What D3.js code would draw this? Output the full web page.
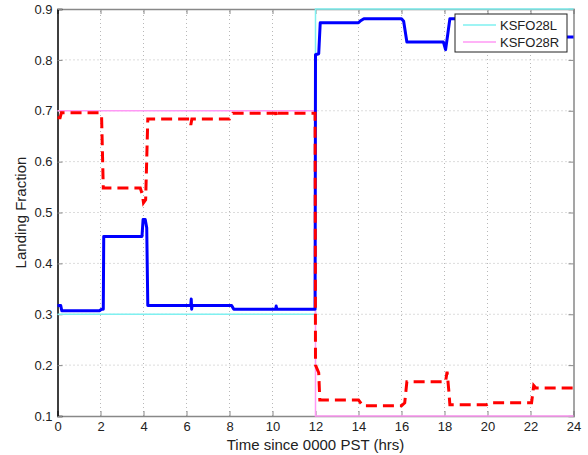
<!DOCTYPE html>
<html>
<head>
<meta charset="utf-8">
<script src="https://cdn.jsdelivr.net/npm/d3@7"></script>
<style>
  body { margin: 0; background: #fff; }
  text { font-family: "Liberation Sans", Arial, sans-serif; }
</style>
</head>
<body>
<div id="chart"></div>
<script>
// runway schedules (reference)
const refTimes = [0, 12, 12, 24];
const ksfo28L = [0.3, 0.3, 0.9, 0.9];
const ksfo28R = [0.7, 0.7, 0.1, 0.1];

// actual landing fractions, 28L (blue, solid)
const blueTimes = [0, 0.15, 0.2, 1.95, 2.05, 2.13, 2.15, 3.93, 3.98, 4.08, 4.15, 4.2,
  6.2, 6.22, 6.24, 6.26, 8.1, 8.2, 10.15, 10.17, 10.2, 11.98, 12.0, 12.15, 12.22,
  14.0, 14.1, 14.25, 16.0, 16.1, 16.25, 17.95, 18.05, 18.15, 18.25, 22.0, 22.05, 24];
const blueVals = [0.317, 0.317, 0.307, 0.307, 0.31, 0.31, 0.453, 0.453, 0.486, 0.486, 0.47, 0.317,
  0.317, 0.33, 0.31, 0.317, 0.317, 0.31, 0.31, 0.316, 0.31, 0.31, 0.81, 0.812, 0.873,
  0.873, 0.877, 0.881, 0.881, 0.876, 0.835, 0.835, 0.82, 0.85, 0.881, 0.881, 0.845, 0.845];

// actual landing fractions, 28R (red, dashed)
const redTimes = [0, 0.12, 0.18, 1.95, 2.05, 2.13, 3.85, 3.95, 4.0, 4.1, 4.2,
  6.15, 6.2, 6.25, 8.0, 8.15, 10.15, 10.17, 10.2, 11.98, 12.0, 12.15, 12.2,
  14.0, 14.2, 16.0, 16.15, 16.25, 18.05, 18.12, 18.2, 18.25, 19.95, 20.1,
  22.05, 22.15, 22.25, 24];
const redVals = [0.686, 0.686, 0.696, 0.696, 0.69, 0.548, 0.548, 0.535, 0.519, 0.525, 0.684,
  0.684, 0.672, 0.684, 0.684, 0.695, 0.695, 0.688, 0.695, 0.695, 0.2, 0.185, 0.1315,
  0.1315, 0.12, 0.12, 0.126, 0.1675, 0.1675, 0.187, 0.15, 0.122, 0.122, 0.126,
  0.126, 0.16, 0.155, 0.155];

const xTicks = [0, 2, 4, 6, 8, 10, 12, 14, 16, 18, 20, 22, 24];
const yTicks = [0.1, 0.2, 0.3, 0.4, 0.5, 0.6, 0.7, 0.8, 0.9];
const legendNames = ["KSFO28L", "KSFO28R"];

const width = 588, height = 455;
const margin = { left: 57.5, right: 14.5, top: 9, bottom: 39 };

const svg = d3.select("#chart").append("svg")
    .attr("width", width)
    .attr("height", height);

const x = d3.scaleLinear().domain([0, 24]).range([margin.left, width - margin.right]);
const y = d3.scaleLinear().domain([0.1, 0.9]).range([height - margin.bottom, margin.top]);

// grid
svg.append("g").selectAll("line")
    .data(xTicks.slice(1, -1))
    .enter().append("line")
    .attr("x1", d => x(d)).attr("x2", d => x(d))
    .attr("y1", y(0.1)).attr("y2", y(0.9))
    .attr("stroke", "#b8b8b8").attr("stroke-width", 1)
    .attr("stroke-dasharray", "1,3");
svg.append("g").selectAll("line")
    .data(yTicks.slice(1, -1))
    .enter().append("line")
    .attr("y1", d => y(d)).attr("y2", d => y(d))
    .attr("x1", x(0)).attr("x2", x(24))
    .attr("stroke", "#b8b8b8").attr("stroke-width", 1)
    .attr("stroke-dasharray", "1,3");

// axes, ticks inside
const xAxis = svg.append("g")
    .attr("transform", `translate(0,${y(0.1)})`)
    .call(d3.axisBottom(x).tickValues(xTicks).tickSize(-5).tickPadding(6).tickFormat(d3.format("d")));
const xAxisTop = svg.append("g")
    .attr("transform", `translate(0,${y(0.9)})`)
    .call(d3.axisTop(x).tickValues(xTicks).tickSize(-5).tickFormat(""));
const yAxis = svg.append("g")
    .attr("transform", `translate(${x(0)},0)`)
    .call(d3.axisLeft(y).tickValues(yTicks).tickSize(-5).tickPadding(5).tickFormat(d3.format(".1f")));
const yAxisRight = svg.append("g")
    .attr("transform", `translate(${x(24)},0)`)
    .call(d3.axisRight(y).tickValues(yTicks).tickSize(-5).tickFormat(""));

[xAxis, xAxisTop, yAxisRight].forEach(g => {
    g.select(".domain").attr("stroke", "#888").attr("stroke-width", 1.5);
    g.selectAll(".tick line").attr("stroke", "#888");
});
yAxis.select(".domain").attr("stroke", "#000").attr("stroke-width", 1.5);
yAxis.selectAll(".tick line").attr("stroke", "#888");
[xAxis, yAxis].forEach(g => {
    g.selectAll(".tick text")
        .attr("fill", "#222")
        .style("font-size", "13px")
        .style("font-family", "'Liberation Sans', Arial, sans-serif");
});

const line = d3.line().x(d => x(d[0])).y(d => y(d[1]));
const zip = (ts, vs) => ts.map((t, i) => [t, vs[i]]);

svg.append("path")
    .attr("d", line(zip(refTimes, ksfo28L)))
    .attr("fill", "none").attr("stroke", "#7ff0f0").attr("stroke-width", 1.5);
svg.append("path")
    .attr("d", line(zip(refTimes, ksfo28R)))
    .attr("fill", "none").attr("stroke", "#ff99f5").attr("stroke-width", 1.5);

svg.append("path")
    .attr("d", line(zip(blueTimes, blueVals)))
    .attr("fill", "none").attr("stroke", "#0000ff").attr("stroke-width", 3)
    .attr("stroke-linejoin", "round");
svg.append("path")
    .attr("d", line(zip(redTimes, redVals)))
    .attr("fill", "none").attr("stroke", "#ff0000").attr("stroke-width", 3)
    .attr("stroke-dasharray", "11,6");

// axis labels
svg.append("text")
    .attr("x", x(12)).attr("y", 450)
    .attr("text-anchor", "middle")
    .style("font-size", "15px").attr("fill", "#222")
    .text("Time since 0000 PST (hrs)");
svg.append("text")
    .attr("transform", `translate(26,${y(0.5)}) rotate(-90)`)
    .attr("text-anchor", "middle")
    .style("font-size", "15px").attr("fill", "#222")
    .text("Landing Fraction");

// legend
const legend = svg.append("g").attr("transform", "translate(455,14)");
legend.append("rect")
    .attr("width", 112).attr("height", 38)
    .attr("fill", "#fff").attr("stroke", "#222").attr("stroke-width", 1);
const legendColors = ["#7ff0f0", "#ff99f5"];
legendNames.forEach((name, i) => {
    legend.append("line")
        .attr("x1", 8).attr("x2", 41)
        .attr("y1", 11 + i * 17).attr("y2", 11 + i * 17)
        .attr("stroke", legendColors[i]).attr("stroke-width", 1.5);
    legend.append("text")
        .attr("x", 45).attr("y", 16 + i * 17)
        .style("font-size", "13px").attr("fill", "#222")
        .text(name);
});
</script>
</body>
</html>
